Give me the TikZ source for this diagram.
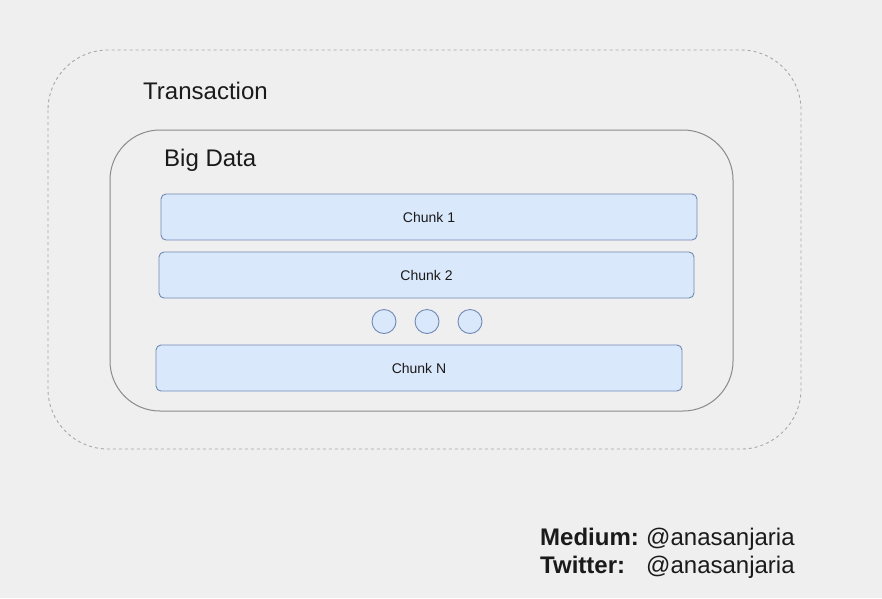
\documentclass[tikz,border=0pt]{standalone}
\usepackage{fontspec}
\setmainfont{Liberation Sans}
\definecolor{bg}{HTML}{EFEFEF}
\definecolor{chunkfill}{HTML}{DAE8FC}
\definecolor{chunkline}{HTML}{7088B4}
\definecolor{boxline}{HTML}{8A8A8A}
\definecolor{outerline}{HTML}{A8A8A8}
\definecolor{txt}{HTML}{1A1A1A}
\begin{document}
\begin{tikzpicture}[x=1pt,y=-1pt,
  chunkbox/.style={draw=chunkline,fill=chunkfill,line width=0.9pt,rounded corners=5pt,inner sep=0pt},
  dotc/.style={draw=chunkline,fill=chunkfill,line width=0.9pt,circle,minimum size=24pt,inner sep=0pt},
  chunktext/.style={font=\fontsize{14}{16}\selectfont,text=txt},
  bigtext/.style={font=\fontsize{24}{28}\selectfont,text=txt,anchor=base west,inner sep=0pt}]
\fill[bg] (0,0) rectangle (882,598);
\useasboundingbox (0,0) rectangle (882,598);
\draw[outerline,dashed,line width=0.9pt,dash pattern=on 3pt off 3pt,rounded corners=60pt] (48,50) rectangle (801,449);
\draw[boxline,line width=1pt,rounded corners=50pt] (110,130) rectangle (733,411);
\node[bigtext] (trans) at (143,99) {Transaction};
\node[bigtext] (big) at (164,166.5) {Big Data};
\draw[chunkbox] (161,194) rectangle (697,240);
\node[chunktext] (c1) at (429,217) {Chunk 1};
\draw[chunkbox] (159,252) rectangle (694,298);
\node[chunktext] (c2) at (426.5,275) {Chunk 2};
\draw[chunkbox] (156,345) rectangle (682,391);
\node[chunktext] (cn) at (419,368) {Chunk N};
\node[dotc] (d1) at (384,321.5) {};
\node[dotc] (d2) at (427,321.5) {};
\node[dotc] (d3) at (470,321.5) {};
\node[bigtext,font=\fontsize{24}{28}\selectfont\bfseries] (med) at (540,545) {Medium:};
\node[bigtext] (medh) at (646,545) {@anasanjaria};
\node[bigtext,font=\fontsize{24}{28}\selectfont\bfseries] (tw) at (540,573) {Twitter:};
\node[bigtext] (twh) at (646,573) {@anasanjaria};
\end{tikzpicture}
\end{document}
